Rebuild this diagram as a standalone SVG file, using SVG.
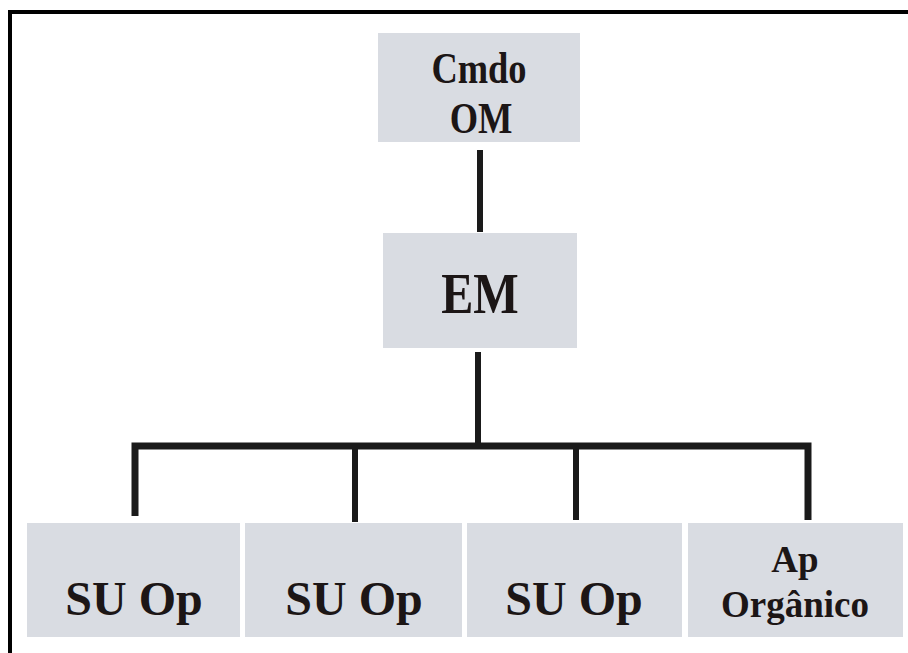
<svg xmlns="http://www.w3.org/2000/svg" width="908" height="653" viewBox="0 0 908 653">
  <style>
    .box { fill: #d9dce2; }
    .lbl { font-family: "Liberation Serif", "Times New Roman", serif; font-weight: bold; fill: #1c1616; text-anchor: middle; }
    .wire { stroke: #1a1a1a; stroke-width: 6; fill: none; stroke-linecap: butt; }
    .frame { stroke: #000; stroke-width: 4; fill: none; }
  </style>
  <rect x="0" y="0" width="908" height="653" fill="#ffffff"/>
  <!-- outer frame: top and left edges only -->
  <path class="frame" d="M10 653 V12 H908"/>

  <g id="connectors">
    <line class="wire" x1="480" y1="150" x2="480" y2="232"/>
    <line class="wire" x1="478" y1="352" x2="478" y2="446"/>
    <path class="wire" style="stroke-width:7" d="M135 516 V446 H808 V520"/>
    <line class="wire" x1="355" y1="446" x2="355" y2="522"/>
    <line class="wire" x1="576" y1="446" x2="576" y2="520"/>
  </g>

  <g id="cmdo-om">
    <rect class="box" x="378" y="33" width="202" height="109"/>
    <!-- condensed bold serif labels -->
    <text class="lbl" font-size="45" transform="translate(479 83) scale(0.81 1)">Cmdo</text>
    <text class="lbl" font-size="45" transform="translate(481 133) scale(0.81 1)">OM</text>
  </g>

  <g id="em">
    <rect class="box" x="383" y="233" width="194" height="115"/>
    <text class="lbl" font-size="56" transform="translate(480 313) scale(0.86 1)">EM</text>
  </g>

  <g id="su-op-1">
    <rect class="box" x="27" y="523" width="213" height="114"/>
    <text class="lbl" x="134" y="615" font-size="48">SU Op</text>
  </g>

  <g id="su-op-2">
    <rect class="box" x="245" y="523" width="217" height="114"/>
    <text class="lbl" x="354" y="615" font-size="48">SU Op</text>
  </g>

  <g id="su-op-3">
    <rect class="box" x="467" y="523" width="215" height="114"/>
    <text class="lbl" x="574" y="615" font-size="48">SU Op</text>
  </g>

  <g id="ap-organico">
    <rect class="box" x="688" y="523" width="215" height="114"/>
    <text class="lbl" x="795" y="572" font-size="37">Ap</text>
    <text class="lbl" x="795" y="617" font-size="37">Orgânico</text>
  </g>
</svg>
